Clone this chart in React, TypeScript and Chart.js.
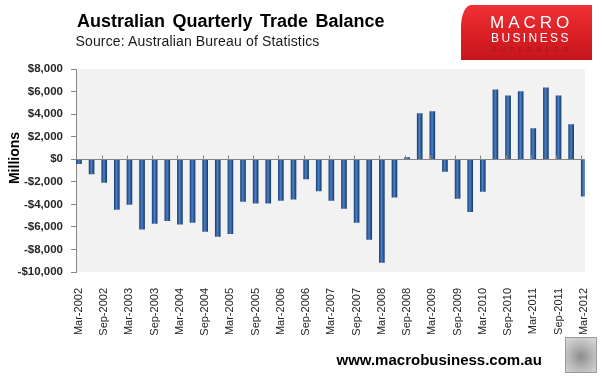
import { useEffect, useRef } from 'react';
import { Chart, registerables } from 'chart.js';

Chart.register(...registerables);

const quarters = [
  'Mar-2002', 'Jun-2002', 'Sep-2002', 'Dec-2002',
  'Mar-2003', 'Jun-2003', 'Sep-2003', 'Dec-2003',
  'Mar-2004', 'Jun-2004', 'Sep-2004', 'Dec-2004',
  'Mar-2005', 'Jun-2005', 'Sep-2005', 'Dec-2005',
  'Mar-2006', 'Jun-2006', 'Sep-2006', 'Dec-2006',
  'Mar-2007', 'Jun-2007', 'Sep-2007', 'Dec-2007',
  'Mar-2008', 'Jun-2008', 'Sep-2008', 'Dec-2008',
  'Mar-2009', 'Jun-2009', 'Sep-2009', 'Dec-2009',
  'Mar-2010', 'Jun-2010', 'Sep-2010', 'Dec-2010',
  'Mar-2011', 'Jun-2011', 'Sep-2011', 'Dec-2011',
  'Mar-2012',
];

const tradeBalance = [
  -400, -1300, -2050, -4450,
  -4000, -6200, -5700, -5450,
  -5750, -5600, -6400, -6850,
  -6600, -3750, -3900, -3900,
  -3650, -3550, -1750, -2800,
  -3660, -4370, -5600, -7110,
  -9140, -3360, 150, 4040,
  4220, -1090, -3480, -4660,
  -2860, 6160, 5630, 5990,
  2710, 6340, 5630, 3070,
  -3270,
];

const xTickLabels = [
  'Mar-2002', 'Sep-2002', 'Mar-2003', 'Sep-2003', 'Mar-2004', 'Sep-2004',
  'Mar-2005', 'Sep-2005', 'Mar-2006', 'Sep-2006', 'Mar-2007', 'Sep-2007',
  'Mar-2008', 'Sep-2008', 'Mar-2009', 'Sep-2009', 'Mar-2010', 'Sep-2010',
  'Mar-2011', 'Sep-2011', 'Mar-2012',
];

const yTickValues = [-10000, -8000, -6000, -4000, -2000, 0, 2000, 4000, 6000, 8000];

const FONT = "'Liberation Sans', Arial, sans-serif";

function fmtMoney(v: number): string {
  const a = Math.abs(v).toLocaleString('en-US');
  return (v < 0 ? '-$' : '$') + a;
}

const plotBg = {
  id: 'plotBg',
  beforeDraw(chart: any) {
    const { ctx, chartArea } = chart;
    ctx.save();
    ctx.fillStyle = '#f2f2f2';
    ctx.fillRect(chartArea.left, chartArea.top, chartArea.right - chartArea.left, chartArea.bottom - chartArea.top);
    ctx.restore();
  },
};

const zeroAxis = {
  id: 'zeroAxis',
  afterDatasetsDraw(chart: any) {
    const { ctx, chartArea, scales } = chart;
    const y0 = Math.round(scales.y.getPixelForValue(0)) + 0.5;
    ctx.save();
    ctx.strokeStyle = '#868686';
    ctx.lineWidth = 1;
    ctx.beginPath();
    ctx.moveTo(chartArea.left, y0);
    ctx.lineTo(chartArea.right, y0);
    for (let k = 2; k < quarters.length; k += 2) {
      const x = Math.round(scales.x.getPixelForValue(k - 0.2)) + 0.5;
      ctx.moveTo(x, y0);
      ctx.lineTo(x, y0 - 4);
    }
    ctx.stroke();
    ctx.restore();
  },
};

function barFill(c: any) {
  const ch = c.chart;
  const xs = ch && ch.scales && ch.scales.x;
  if (!xs || c.type !== 'data') return '#3566a8';
  const x = xs.getPixelForValue(c.dataIndex);
  if (!Number.isFinite(x)) return '#3566a8';
  const g = ch.ctx.createLinearGradient(x - 2.5, 0, x + 2.5, 0);
  g.addColorStop(0, '#1d4478');
  g.addColorStop(0.45, '#4a80c6');
  g.addColorStop(1, '#1a3c6c');
  return g;
}

function ChartCanvas() {
  const ref = useRef<HTMLCanvasElement | null>(null);
  useEffect(() => {
    if (!ref.current) return;
    const chart = new Chart(ref.current, {
      type: 'bar',
      data: {
        datasets: [
          {
            label: 'Trade balance',
            data: tradeBalance.map((v, i) => ({ x: i, y: v })),
            barThickness: 5,
            borderWidth: 0,
            backgroundColor: barFill,
          } as any,
        ],
      },
      options: {
        animation: false,
        responsive: false,
        devicePixelRatio: 1,
        layout: { padding: { left: 0, top: 69, right: 13, bottom: 0 } },
        plugins: { legend: { display: false }, tooltip: { enabled: false }, title: { display: false } },
        scales: {
          x: {
            type: 'linear',
            min: -0.234,
            max: 40.078,
            offset: false,
            grid: { display: false },
            border: { display: false },
            afterBuildTicks: (scale: any) => {
              scale.ticks = xTickLabels.map((l) => ({ value: quarters.indexOf(l) }));
            },
            afterFit: (scale: any) => {
              scale.height = 111;
            },
            ticks: {
              autoSkip: false,
              minRotation: 90,
              maxRotation: 90,
              padding: 8,
              color: '#262626',
              font: { family: FONT, size: 11 },
              callback: (value: any) => quarters[Math.round(Number(value))] ?? '',
            },
          },
          y: {
            type: 'linear',
            min: -10000,
            max: 8000,
            afterBuildTicks: (scale: any) => {
              scale.ticks = yTickValues.map((v) => ({ value: v }));
            },
            afterFit: (scale: any) => {
              scale.width = 76;
            },
            grid: { drawOnChartArea: false, drawTicks: true, tickLength: 5, color: '#868686' },
            border: { display: true, color: '#868686' },
            ticks: {
              padding: 8,
              color: '#262626',
              font: { family: FONT, size: 11.5, weight: 'bold' },
              callback: (value: any) => fmtMoney(Number(value)),
            },
          },
        },
      },
      plugins: [plotBg, zeroAxis],
    } as any);
    return () => chart.destroy();
  }, []);
  return (
    <canvas
      ref={ref}
      width={605}
      height={383}
      style={{ position: 'absolute', left: 0, top: 0, width: 605, height: 383, display: 'block' }}
    />
  );
}

export default function App() {
  return (
    <div
      style={{
        position: 'absolute',
        left: 0,
        top: 0,
        width: 605,
        height: 383,
        background: '#ffffff',
        overflow: 'hidden',
        fontFamily: FONT,
      }}
    >
      <ChartCanvas />
      <div
        style={{
          position: 'absolute',
          left: 77,
          top: 11.5,
          fontSize: 18,
          lineHeight: '18px',
          fontWeight: 'bold',
          color: '#000',
          whiteSpace: 'nowrap',
          wordSpacing: 2.5,
        }}
      >
        Australian Quarterly Trade Balance
      </div>
      <div
        style={{
          position: 'absolute',
          left: 75.5,
          top: 34,
          fontSize: 14,
          lineHeight: '14px',
          color: '#1a1a1a',
          whiteSpace: 'nowrap',
          letterSpacing: 0.15,
        }}
      >
        Source: Australian Bureau of Statistics
      </div>
      <div
        style={{
          position: 'absolute',
          left: 461,
          top: 5,
          width: 131,
          height: 55,
          background: 'linear-gradient(180deg, #ee3136 0%, #d81e24 60%, #c4161c 100%)',
          borderTopLeftRadius: '10px 22px',
        }}
      />
      <div
        style={{
          position: 'absolute',
          left: 490,
          top: 13.6,
          fontSize: 17,
          lineHeight: '17px',
          color: '#ffffff',
          letterSpacing: 4,
          whiteSpace: 'nowrap',
        }}
      >
        MACRO
      </div>
      <div
        style={{
          position: 'absolute',
          left: 491,
          top: 31.5,
          fontSize: 12,
          lineHeight: '12px',
          color: '#ffffff',
          letterSpacing: 2.4,
          whiteSpace: 'nowrap',
        }}
      >
        BUSINESS
      </div>
      <div
        style={{
          position: 'absolute',
          left: 491.5,
          top: 46,
          fontSize: 7,
          lineHeight: '7px',
          color: '#a3141a',
          letterSpacing: 4.2,
          whiteSpace: 'nowrap',
        }}
      >
        SUPERBLOG
      </div>
      <div
        style={{
          position: 'absolute',
          left: -26,
          top: 150,
          width: 80,
          height: 16,
          lineHeight: '16px',
          textAlign: 'center',
          fontSize: 14,
          fontWeight: 'bold',
          color: '#000',
          transform: 'rotate(-90deg)',
          whiteSpace: 'nowrap',
        }}
      >
        Millions
      </div>
      <div
        style={{
          position: 'absolute',
          left: 336.5,
          top: 352.3,
          fontSize: 15,
          lineHeight: '15px',
          fontWeight: 'bold',
          color: '#000',
          whiteSpace: 'nowrap',
        }}
      >
        www.macrobusiness.com.au
      </div>
      <div
        style={{
          position: 'absolute',
          left: 565,
          top: 337,
          width: 30,
          height: 34,
          border: '1px solid #9a9a9a',
          background: 'radial-gradient(circle at 50% 55%, #8c8c8c 0%, #b4b4b4 45%, #dcdcdc 100%)',
        }}
      />
    </div>
  );
}
